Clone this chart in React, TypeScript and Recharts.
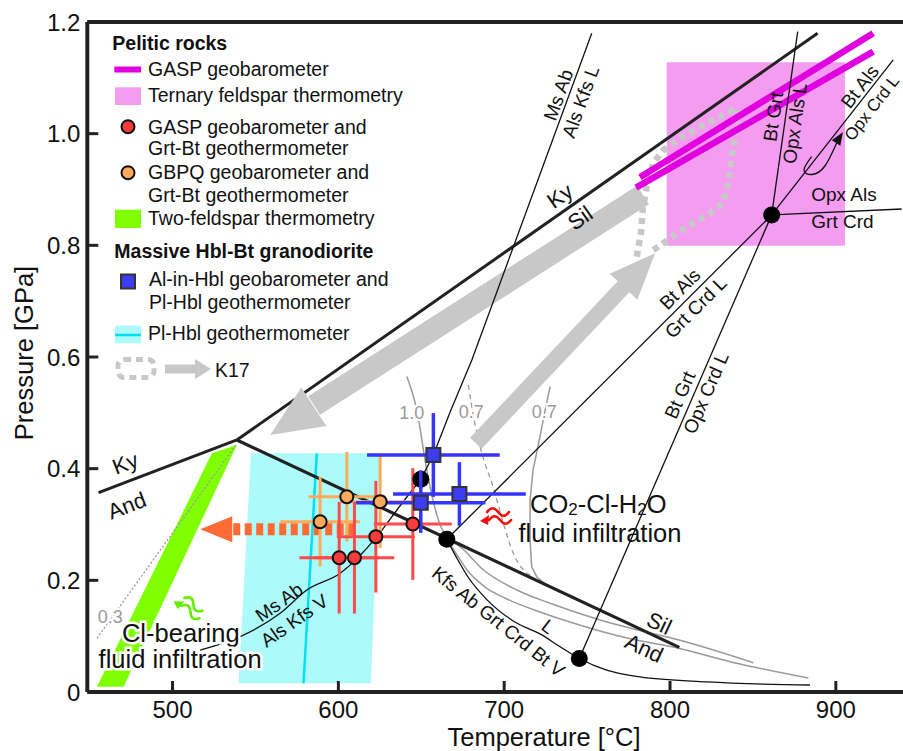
import React from 'react';
import {
  ComposedChart,
  Line,
  Area,
  Scatter,
  XAxis,
  YAxis,
  ErrorBar,
  ReferenceLine
} from 'recharts';

const FONT = "'Liberation Sans', Arial, Helvetica, sans-serif";

// axes
const T_DOMAIN = [448.6, 940.5];
const P_DOMAIN = [0, 1.2];
const T_TICKS = [500, 600, 700, 800, 900];
const P_TICKS = [0, 0.2, 0.4, 0.6, 0.8, 1.0, 1.2];

// aluminosilicate boundaries [T degC, P GPa]
const KY_SIL = [[538.8, 0.4514], [889.0, 1.1798]];
const KY_AND = [[455.4, 0.357], [538.8, 0.4514]];
const AND_SIL = [[538.8, 0.4514], [805.6, 0.08]];

// reaction lines
const MS_AB_L = [[649.7, 0.381], [657.3, 0.4245], [667.4, 0.5015], [680.5, 0.5947], [752.8, 1.1798]];
const MS_AB_V = [[516.7, 0.0752], [540.8, 0.0991], [564.9, 0.141], [581.0, 0.1827], [601.1, 0.2126], [623.2, 0.2782], [635.3, 0.326], [649.7, 0.381]];
const SOLIDUS = [[665.6, 0.272], [672.2, 0.236], [678.2, 0.206], [689.7, 0.165], [707.2, 0.124], [721.6, 0.104], [733.7, 0.081], [745.3, 0.06], [761.8, 0.039], [781.9, 0.027], [822.1, 0.018], [884.4, 0.0125]];
const BT_ALS_GRT_CRD_L = [[665.4, 0.2735], [861.3, 0.8544]];
const BT_GRT_OPX_CRD_L = [[745.3, 0.06], [861.3, 0.8544]];
const BT_GRT_OPX_ALS_L = [[861.3, 0.8544], [877.0, 1.1827]];
const OPX_ALS_GRT_CRD = [[861.3, 0.8544], [939.7, 0.8651]];
const BT_ALS_OPX_CRD_L = [[861.3, 0.8544], [934.6, 1.132]];
const SHIFT_HOOK = [[885.4, 0.9588], [880.8, 0.935], [885.6, 0.9269], [893.4, 0.9421], [901.3, 0.9887]];
const SHIFT_HOOK_TIP = [[904.3, 1.003]];

// water-activity isopleths (grey)
const ISO_10 = [[641.3, 0.565], [647.3, 0.505], [653.3, 0.398], [659.4, 0.317], [665.4, 0.2735], [670.4, 0.251], [677.6, 0.2185], [688.5, 0.188], [701.7, 0.1666], [721.6, 0.1433], [741.5, 0.1236], [774.1, 0.0967], [801.8, 0.0806], [842.2, 0.0502], [883.4, 0.0251]];
const ISO_UPPER = [[665.4, 0.2735], [673.4, 0.2603], [687.5, 0.2185], [707.6, 0.1827], [727.7, 0.1589], [757.8, 0.129], [781.9, 0.1102], [805.4, 0.0931], [850.2, 0.0525]];
const ISO_07 = [[727.7, 0.5468], [724.7, 0.505], [721.6, 0.4573], [717.4, 0.3976], [715.6, 0.3439], [715.6, 0.2723], [716.6, 0.2244], [719.6, 0.2065], [724.7, 0.1934]];
const ISO_07_DASHED = [[678.4, 0.5499], [681.9, 0.4872], [685.5, 0.4394], [693.9, 0.3618], [699.5, 0.3022], [705.5, 0.2484], [711.6, 0.2185], [717.6, 0.2065]];
const ISO_03 = [[454.4, 0.0962], [538.8, 0.445]];

// GASP geobarometer
const GASP_UPPER = [[781.9, 0.9219], [922.5, 1.1798]];
const GASP_LOWER = [[779.5, 0.9033], [922.5, 1.1469]];

// fields [T, Plow, Phigh]
const TERNARY_FSP = [[798.0, 0.7994, 1.1279], [905.5, 0.7994, 1.1279]];
const PL_HBL_FIELD = [[539.8, 0.0156, 0.0156], [547.3, 0.0156, 0.4275], [619.6, 0.0156, 0.4275], [625.2, 0.4275, 0.4275]];
const TWO_FSP_FIELD = [[454.4, 0.0095, 0.0095], [470.5, 0.0095, 0.1066], [523.7, 0.3467, 0.4275], [538.8, 0.4424, 0.4424]];
const PL_HBL_LINE = [[579.0, 0.0156], [587.0, 0.4275]];

// K17 path
const K17_DOWN = [[783.7, 0.8902], [585.4, 0.5132]];
const K17_DOWN_TIP = [[558.9, 0.4603]];
const K17_UP = [[682.9, 0.4455], [774.1, 0.7326]];
const K17_UP_TIP = [[791.0, 0.7858]];
const K17_LOOP_W = [[779.9, 0.7797], [782.5, 0.8221], [783.7, 0.8693], [786.0, 0.9051], [789.9, 0.947], [796.0, 0.9708], [804.0, 0.9887], [822.1, 1.0186], [840.2, 1.0455]];
const K17_LOOP_E = [[789.9, 0.7917], [796.0, 0.8037], [804.0, 0.8216], [814.0, 0.8395], [824.1, 0.8574], [832.0, 0.8759], [835.1, 0.9111], [837.2, 0.9588], [839.2, 0.9946], [840.2, 1.0425]];

// retrograde shift of pelites
const CL_SHIFT = [[536.6, 0.2914], [612.1, 0.2914]];
const CL_SHIFT_TIP = [[516.7, 0.2914]];

// samples
const GASP_T = [600.5, 609.7, 622.6, 644.9];
const GASP_P = [0.2405, 0.2405, 0.2782, 0.3009];
const GASP_T_ERR = [24, 24, 23.5, 23.5];
const GASP_P_ERR = [0.1, 0.1, 0.1, 0.1];

const GBPQ_T = [589.0, 605.1, 625.2];
const GBPQ_P = [0.305, 0.3498, 0.3409];
const GBPQ_T_ERR = [24, 23, 24];
const GBPQ_P_ERR = [0.08, 0.08, 0.083];

const HBL_T = [657.3, 649.7, 673.0];
const HBL_P = [0.4245, 0.339, 0.3546];
const HBL_T_ERR = [40, 39, 40];
const HBL_P_ERR = [0.075, 0.054, 0.057];

// invariant points
const INV_HIDDEN = [[649.7, 0.381]];
const INV_POINTS = [[665.4, 0.2735], [745.3, 0.06], [861.3, 0.8544]];

// fluid symbols
const FLUID_RED = [[695.7, 0.3152]];
const FLUID_GREEN = [[510.7, 0.1522]];

// labels: [T, P, text, angle]
const ALS_LABELS = [
  [733.7, 0.8884, 'Ky', -35], [745.8, 0.849, 'Sil', -35],
  [471.5, 0.4096, 'Ky', -21], [472.5, 0.3337, 'And', -21],
  [793.5, 0.123, 'Sil', 25], [784.4, 0.0783, 'And', 25]
];
const REACTION_LABELS = [
  [732.7, 1.0693, 'Ms Ab', -70], [746.2, 1.0573, 'Als Kfs L', -70],
  [862.3, 1.0304, 'Bt Grt', -82], [875.3, 1.0186, 'Opx Als L', -82],
  [914.5, 1.0842, 'Bt Als', -52],
  [904.9, 0.8902, 'Opx Als', 0], [904.0, 0.8424, 'Grt Crd', 0],
  [806.0, 0.7218, 'Bt Als', -45], [815.5, 0.689, 'Grt Crd L', -45],
  [806.0, 0.532, 'Bt Grt', -66.6], [821.7, 0.5356, 'Opx Crd L', -66.6],
  [564.3, 0.1607, 'Ms Ab', -35], [573.4, 0.1277, 'Als Kfs V', -35],
  [696.5, 0.1259, 'Kfs Ab Grt Crd Bt V', 38.7], [726.6, 0.117, 'L', 38]
];
const EDGE_LABELS = [[921.8, 1.046, 'Opx Crd L', -52]];
const ISO_LABELS = [
  [644.3, 0.4992, '1.0', 0], [680.2, 0.501, '0.7', 0], [724.1, 0.501, '0.7', 0], [462.4, 0.1349, '0.3', 0]
];
const FLUID_TEXT = [
  [715.6, 0.3201, 'CO2-Cl-H2O'], [708.6, 0.2692, 'fluid infiltration']
];
const CL_TEXT = [
  [469.5, 0.0901, 'Cl-bearing'], [455.4, 0.0424, 'fluid infiltration']
];

const MAGENTA = '#e000e0';
const PINK = '#f49cf0';
const CYAN_FILL = '#adfafa';
const CYAN_LINE = '#00e0f5';
const GREEN = '#80ff00';
const ARROW_GRAY = '#c8c8c8';
const ISO_GRAY = '#9a9a9a';
const RED_FILL = '#f83b3b';
const RED_BAR = '#ff4a4a';
const ORANGE_FILL = '#ffa95c';
const ORANGE_BAR = '#ffab5a';
const BLUE_FILL = '#3c3cf2';
const BLUE_BAR = '#3535ff';
const ORANGE_ARROW = '#ff6a35';
const INK = '#111';

const toPts = (a: any[]) => a.map(([t, p]) => ({ t, p }));
const toRange = (a: number[][]) => a.map(([t, lo, hi]) => ({ t, range: [lo, hi] }));
const toLabels = (a: any[]) => a.map(([t, p, text, angle]) => ({ t, p, text, angle }));
const toSamples = (T: number[], P: number[], te: number[], pe: number[]) =>
  T.map((t, i) => ({ t, p: P[i], tErr: te[i], pErr: pe[i] }));

const GASP_PTS = toSamples(GASP_T, GASP_P, GASP_T_ERR, GASP_P_ERR);
const GBPQ_PTS = toSamples(GBPQ_T, GBPQ_P, GBPQ_T_ERR, GBPQ_P_ERR);
const HBL_PTS = toSamples(HBL_T, HBL_P, HBL_T_ERR, HBL_P_ERR);

const noShape = () => <g />;
const dotShape = (props: any) => <circle cx={props.cx} cy={props.cy} r={8.5} fill="#000" />;
// the hidden invariant point is partly covered by a Hbl error bar
const halfDotShape = (props: any) => (
  <g>
    <circle cx={props.cx} cy={props.cy} r={8.5} fill="#000" />
    <line x1={props.cx} x2={props.cx} y1={props.cy - 9} y2={props.cy + 9} stroke={BLUE_BAR} strokeWidth={3.5} />
  </g>
);
const circleShape = (fill: string) => (props: any) => (
  <circle cx={props.cx} cy={props.cy} r={6.5} fill={fill} stroke={INK} strokeWidth={2} />
);
const squareShape = (props: any) => (
  <rect x={props.cx - 7} y={props.cy - 7} width={14} height={14} fill={BLUE_FILL} stroke="#333" strokeWidth={2} />
);
const headShape = (len: number, half: number, angle: number, color: string) => (props: any) => (
  <polygon
    points={`0,0 ${-len},${-half} ${-len},${half}`}
    transform={`translate(${props.cx},${props.cy}) rotate(${angle})`}
    fill={color}
  />
);
const squiggleShape = (color: string, angle: number) => (props: any) => (
  <g transform={`translate(${props.cx},${props.cy}) rotate(${angle})`} fill="none" stroke={color} strokeWidth={2.6} strokeLinecap="round">
    <path d="M -10 -4 c 4 -5 7 -5 11 0 s 7 5 11 0" />
    <path d="M -8 4 c 4 -5 7 -5 11 0 s 7 5 11 0" />
    <polygon points="-17,5 -8,-1 -9,9" fill={color} stroke="none" />
  </g>
);
const labelShape = (size: number, color: string, halo: number) => (props: any) => {
  const { cx, cy, payload } = props;
  return (
    <text
      x={cx}
      y={cy}
      transform={`rotate(${payload.angle} ${cx} ${cy})`}
      textAnchor="middle"
      dominantBaseline="central"
      fontSize={size}
      fill={color}
      stroke={halo ? '#fff' : 'none'}
      strokeWidth={halo}
      style={{ paintOrder: 'stroke' }}
    >
      {payload.text}
    </text>
  );
};
const chem = (s: string) =>
  s.split(/(\d)/).filter((x) => x !== '').map((part, i) =>
    /\d/.test(part) ? (
      <tspan key={i} fontSize={17} dy={2}>{part}</tspan>
    ) : (
      <tspan key={i} dy={i > 0 ? -2 : 0}>{part}</tspan>
    )
  );
const blockShape = (halo: number) => (props: any) => (
  <text
    x={props.cx}
    y={props.cy}
    fontSize={25.5}
    fill={INK}
    stroke={halo ? '#fff' : 'none'}
    strokeWidth={halo}
    style={{ paintOrder: 'stroke' }}
  >
    {chem(props.payload.text)}
  </text>
);

const XTick = ({ x, y, payload }: any) => (
  <g>
    <line x1={x} x2={x} y1={y} y2={y - 11} stroke="#222" strokeWidth={3} />
    <text x={x} y={y + 26} textAnchor="middle" fontSize={24} fill={INK}>{payload.value}</text>
  </g>
);
const YTick = ({ x, y, payload }: any) => (
  <g>
    <line x1={x} x2={x + 11} y1={y} y2={y} stroke="#222" strokeWidth={3} />
    <text x={x - 7} y={y} dy="0.36em" textAnchor="end" fontSize={24} fill={INK}>
      {payload.value === 0 ? '0' : payload.value.toFixed(1)}
    </text>
  </g>
);

const lineProps = { dot: false, activeDot: false, isAnimationActive: false, dataKey: 'p', type: 'linear' as const };

const LegendOverlay = () => (
  <svg width={903} height={751} style={{ position: 'absolute', left: 0, top: 0, pointerEvents: 'none' }} fontFamily={FONT}>
    <g fontSize={19.5} fill={INK}>
      <text x={112.3} y={50} fontWeight="bold">Pelitic rocks</text>
      <line x1={114.3} x2={141} y1={69.5} y2={69.5} stroke={MAGENTA} strokeWidth={6} />
      <text x={148} y={76}>GASP geobarometer</text>
      <rect x={115} y={87.3} width={26} height={17.7} fill={PINK} />
      <text x={148} y={102}>Ternary feldspar thermometry</text>
      <circle cx={128} cy={126.7} r={6.5} fill={RED_FILL} stroke={INK} strokeWidth={2} />
      <text x={148} y={134.3}>GASP geobarometer and</text>
      <text x={148} y={155.3}>Grt-Bt geothermometer</text>
      <circle cx={128} cy={172.7} r={6.5} fill={ORANGE_FILL} stroke={INK} strokeWidth={2} />
      <text x={148} y={179.3}>GBPQ geobarometer and</text>
      <text x={148} y={202}>Grt-Bt geothermometer</text>
      <rect x={115} y={209.7} width={26} height={18.3} fill={GREEN} />
      <text x={148} y={225.3}>Two-feldspar thermometry</text>
      <text x={114.3} y={258} fontWeight="bold">Massive Hbl-Bt granodiorite</text>
      <rect x={121} y={274.5} width={14} height={14} fill={BLUE_FILL} stroke="#333" strokeWidth={2} />
      <text x={149} y={286.3}>Al-in-Hbl geobarometer and</text>
      <text x={149} y={308.7}>Pl-Hbl geothermometer</text>
      <rect x={115} y={325.7} width={26} height={17.6} fill={CYAN_FILL} />
      <line x1={115} x2={141} y1={335} y2={335} stroke={CYAN_LINE} strokeWidth={2.5} />
      <text x={148} y={340.3}>Pl-Hbl geothermometer</text>
      <rect x={118} y={359.5} width={36} height={18} rx={6} fill="none" stroke={ARROW_GRAY} strokeWidth={5} strokeDasharray="7 5" />
      <line x1={165} x2={197} y1={369} y2={369} stroke={ARROW_GRAY} strokeWidth={9} />
      <polygon points="211,369 195,359 195,379" fill={ARROW_GRAY} />
      <text x={215} y={377}>K17</text>
    </g>
    <text x={544} y={746} textAnchor="middle" fontSize={25.5} fill={INK}>Temperature [°C]</text>
    <text x={33} y={353} textAnchor="middle" fontSize={25.5} fill={INK} transform="rotate(-90 33 353)">Pressure [GPa]</text>
  </svg>
);

const App: React.FC = () => (
  <div style={{ position: 'absolute', left: 0, top: 0, width: 903, height: 751, background: '#fff', fontFamily: FONT }}>
    <ComposedChart width={903} height={751} margin={{ top: 22, right: 0, bottom: 0, left: 0 }}>
      {/* fields */}
      <Area data={toRange(TERNARY_FSP)} dataKey="range" type="linear" fill={PINK} fillOpacity={1} stroke="none" isAnimationActive={false} activeDot={false} />
      <Area data={toRange(PL_HBL_FIELD)} dataKey="range" type="linear" fill={CYAN_FILL} fillOpacity={1} stroke="none" isAnimationActive={false} activeDot={false} />
      <Area data={toRange(TWO_FSP_FIELD)} dataKey="range" type="linear" fill={GREEN} fillOpacity={1} stroke="none" isAnimationActive={false} activeDot={false} />
      <Line {...lineProps} data={toPts(PL_HBL_LINE)} stroke={CYAN_LINE} strokeWidth={2.5} />

      {/* isopleths */}
      <Line {...lineProps} data={toPts(ISO_03)} stroke={ISO_GRAY} strokeWidth={1.3} strokeDasharray="2 2" />
      <Line {...lineProps} data={toPts(ISO_10)} type="monotone" stroke={ISO_GRAY} strokeWidth={1.5} />
      <Line {...lineProps} data={toPts(ISO_UPPER)} type="monotone" stroke={ISO_GRAY} strokeWidth={1.5} />
      <Line {...lineProps} data={toPts(ISO_07)} stroke={ISO_GRAY} strokeWidth={1.5} />
      <Line {...lineProps} data={toPts(ISO_07_DASHED)} type="monotone" stroke={ISO_GRAY} strokeWidth={1.3} strokeDasharray="5 4" />

      {/* K17 path */}
      <Line {...lineProps} data={toPts(K17_DOWN)} stroke={ARROW_GRAY} strokeWidth={22} />
      <Scatter data={toPts(K17_DOWN_TIP)} dataKey="p" shape={headShape(52, 23, 147, ARROW_GRAY)} isAnimationActive={false} />
      <Line {...lineProps} data={toPts(K17_UP)} stroke={ARROW_GRAY} strokeWidth={16} />
      <Scatter data={toPts(K17_UP_TIP)} dataKey="p" shape={headShape(46, 19, -46.7, ARROW_GRAY)} isAnimationActive={false} />
      <Line {...lineProps} data={toPts(K17_LOOP_W)} stroke={ARROW_GRAY} strokeWidth={6.5} strokeDasharray="6 5" />
      <Line {...lineProps} data={toPts(K17_LOOP_E)} stroke={ARROW_GRAY} strokeWidth={6.5} strokeDasharray="6 5" />

      {/* GASP */}
      <Line {...lineProps} data={toPts(GASP_UPPER)} stroke={MAGENTA} strokeWidth={6.5} />
      <Line {...lineProps} data={toPts(GASP_LOWER)} stroke={MAGENTA} strokeWidth={6.5} />

      {/* aluminosilicates */}
      <Line {...lineProps} data={toPts(KY_SIL)} stroke="#222" strokeWidth={3} />
      <Line {...lineProps} data={toPts(KY_AND)} stroke="#222" strokeWidth={3} />
      <Line {...lineProps} data={toPts(AND_SIL)} stroke="#222" strokeWidth={3.2} />

      {/* reactions */}
      <Line {...lineProps} data={toPts(MS_AB_L)} stroke={INK} strokeWidth={1.3} />
      <Line {...lineProps} data={toPts(MS_AB_V)} type="monotone" stroke={INK} strokeWidth={1.3} />
      <Line {...lineProps} data={toPts(SOLIDUS)} type="monotone" stroke={INK} strokeWidth={1.3} />
      <Line {...lineProps} data={toPts(BT_ALS_GRT_CRD_L)} stroke={INK} strokeWidth={1.3} />
      <Line {...lineProps} data={toPts(BT_GRT_OPX_CRD_L)} stroke={INK} strokeWidth={1.3} />
      <Line {...lineProps} data={toPts(BT_GRT_OPX_ALS_L)} stroke={INK} strokeWidth={1.3} />
      <Line {...lineProps} data={toPts(OPX_ALS_GRT_CRD)} stroke={INK} strokeWidth={1.3} />
      <Line {...lineProps} data={toPts(BT_ALS_OPX_CRD_L)} stroke={INK} strokeWidth={1.3} />
      <Line {...lineProps} data={toPts(SHIFT_HOOK)} type="natural" stroke={INK} strokeWidth={1.3} />
      <Scatter data={toPts(SHIFT_HOOK_TIP)} dataKey="p" shape={headShape(13, 5, -58, INK)} isAnimationActive={false} />

      {/* Cl-driven retrograde shift */}
      <Line {...lineProps} data={toPts(CL_SHIFT)} stroke={ORANGE_ARROW} strokeWidth={12} strokeDasharray="7 4.5" />
      <Scatter data={toPts(CL_SHIFT_TIP)} dataKey="p" shape={headShape(32, 13, 180, ORANGE_ARROW)} isAnimationActive={false} />

      {/* samples */}
      <Scatter data={GBPQ_PTS} dataKey="p" shape={noShape} isAnimationActive={false}>
        <ErrorBar dataKey="tErr" direction="x" width={0} stroke={ORANGE_BAR} strokeWidth={3} isAnimationActive={false} />
        <ErrorBar dataKey="pErr" direction="y" width={0} stroke={ORANGE_BAR} strokeWidth={3} isAnimationActive={false} />
      </Scatter>
      <Scatter data={GASP_PTS} dataKey="p" shape={noShape} isAnimationActive={false}>
        <ErrorBar dataKey="tErr" direction="x" width={0} stroke={RED_BAR} strokeWidth={3} isAnimationActive={false} />
        <ErrorBar dataKey="pErr" direction="y" width={0} stroke={RED_BAR} strokeWidth={3} isAnimationActive={false} />
      </Scatter>
      <Scatter data={GBPQ_PTS} dataKey="p" shape={circleShape(ORANGE_FILL)} isAnimationActive={false} />
      <Scatter data={GASP_PTS} dataKey="p" shape={circleShape(RED_FILL)} isAnimationActive={false} />
      <Scatter data={HBL_PTS} dataKey="p" shape={noShape} isAnimationActive={false}>
        <ErrorBar dataKey="tErr" direction="x" width={0} stroke={BLUE_BAR} strokeWidth={3.5} isAnimationActive={false} />
        <ErrorBar dataKey="pErr" direction="y" width={0} stroke={BLUE_BAR} strokeWidth={3.5} isAnimationActive={false} />
      </Scatter>
      <Scatter data={toPts(INV_HIDDEN)} dataKey="p" shape={halfDotShape} isAnimationActive={false} />
      <Scatter data={HBL_PTS} dataKey="p" shape={squareShape} isAnimationActive={false} />
      <Scatter data={toPts(INV_POINTS)} dataKey="p" shape={dotShape} isAnimationActive={false} />

      {/* fluid symbols */}
      <Scatter data={toPts(FLUID_RED)} dataKey="p" shape={squiggleShape('#f01010', 0)} isAnimationActive={false} />
      <Scatter data={toPts(FLUID_GREEN)} dataKey="p" shape={squiggleShape('#66ee00', 35)} isAnimationActive={false} />

      {/* labels */}
      <Scatter data={toLabels(ISO_LABELS)} dataKey="p" shape={labelShape(18, ISO_GRAY, 4)} isAnimationActive={false} />
      <Scatter data={toLabels(ALS_LABELS)} dataKey="p" shape={labelShape(22, INK, 0)} isAnimationActive={false} />
      <Scatter data={toLabels(REACTION_LABELS)} dataKey="p" shape={labelShape(19, INK, 0)} isAnimationActive={false} />
      <Scatter data={toLabels(EDGE_LABELS)} dataKey="p" shape={labelShape(17, INK, 0)} isAnimationActive={false} />
      <Scatter data={toLabels(FLUID_TEXT)} dataKey="p" shape={blockShape(0)} isAnimationActive={false} />
      <Scatter data={toLabels(CL_TEXT)} dataKey="p" shape={blockShape(5)} isAnimationActive={false} />

      <ReferenceLine y={1.2} stroke="#222" strokeWidth={4} />
      <XAxis
        type="number"
        dataKey="t"
        domain={T_DOMAIN}
        ticks={T_TICKS}
        allowDataOverflow
        interval={0}
        height={59}
        tickSize={0}
        tickMargin={0}
        tickLine={false}
        tick={XTick}
        axisLine={{ stroke: '#222', strokeWidth: 4 }}
      />
      <YAxis
        type="number"
        dataKey="p"
        domain={P_DOMAIN}
        ticks={P_TICKS}
        allowDataOverflow
        interval={0}
        width={87.3}
        tickSize={0}
        tickMargin={0}
        tickLine={false}
        tick={YTick}
        axisLine={{ stroke: '#222', strokeWidth: 4 }}
      />
    </ComposedChart>
    <LegendOverlay />
  </div>
);

export default App;
